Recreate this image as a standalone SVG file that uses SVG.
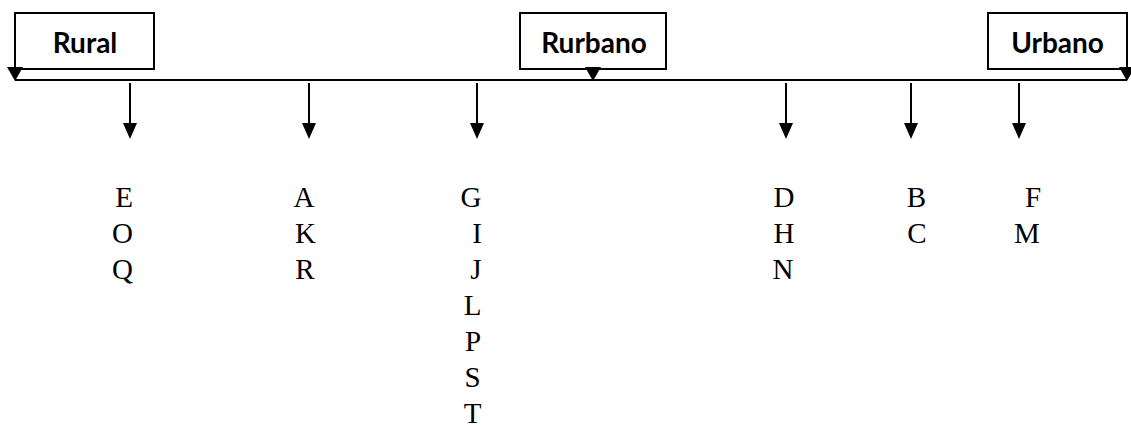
<svg xmlns="http://www.w3.org/2000/svg" width="1131" height="427" viewBox="0 0 1131 427">
<style>
.box{fill:#fff;stroke:#000;stroke-width:2}
.lbl{font-family:Lato,"Liberation Sans",sans-serif;font-weight:bold;font-size:28px;text-anchor:middle;fill:#000}
.ltr{font-family:"Liberation Serif",serif;font-size:29px;text-anchor:middle;fill:#000}
.ln{stroke:#000;stroke-width:2;fill:none}
.ah{fill:#000}
</style>
<rect width="1131" height="427" fill="#fff"/>
<g id="node-rural"><rect class="box" x="15" y="13" width="139" height="56"/><text class="lbl" x="85" y="53">Rural</text></g>
<g id="node-rurbano"><rect class="box" x="520" y="13" width="146" height="56"/><text class="lbl" x="594" y="53">Rurbano</text></g>
<g id="node-urbano"><rect class="box" x="988" y="13" width="139" height="56"/><text class="lbl" x="1057.5" y="53">Urbano</text></g>
<g id="connectors">
<line class="ln" x1="15" y1="80" x2="1127" y2="80" stroke-width="1.5"/>
<line class="ln" x1="15" y1="69" x2="15" y2="72"/>
<polygon class="ah" points="7,67 23,67 15,81"/>
<polygon class="ah" points="585,67 601,67 593,81"/>
<line class="ln" x1="1127" y1="69" x2="1127" y2="72"/>
<polygon class="ah" points="1119,67 1135,67 1127,81"/>
<g id="down-arrows">
<line class="ln" x1="130" y1="83" x2="130" y2="126"/><polygon class="ah" points="123,123 137,123 130,139"/>
<line class="ln" x1="309" y1="83" x2="309" y2="126"/><polygon class="ah" points="302,123 316,123 309,139"/>
<line class="ln" x1="477" y1="83" x2="477" y2="126"/><polygon class="ah" points="470,123 484,123 477,139"/>
<line class="ln" x1="786" y1="83" x2="786" y2="126"/><polygon class="ah" points="779,123 793,123 786,139"/>
<line class="ln" x1="911" y1="83" x2="911" y2="126"/><polygon class="ah" points="904,123 918,123 911,139"/>
<line class="ln" x1="1019" y1="83" x2="1019" y2="126"/><polygon class="ah" points="1012,123 1026,123 1019,139"/>
</g>
</g>
<g id="col1"><text class="ltr" x="124" y="207">E</text><text class="ltr" x="122.5" y="243">O</text><text class="ltr" x="122.5" y="279">Q</text></g>
<g id="col2"><text class="ltr" x="304" y="207">A</text><text class="ltr" x="305.5" y="243">K</text><text class="ltr" x="305" y="279">R</text></g>
<g id="col3"><text class="ltr" x="471" y="207">G</text><text class="ltr" x="477" y="243">I</text><text class="ltr" x="476" y="279">J</text><text class="ltr" x="472.5" y="315">L</text><text class="ltr" x="473" y="351">P</text><text class="ltr" x="472.5" y="387">S</text><text class="ltr" x="472.5" y="423">T</text></g>
<g id="col4"><text class="ltr" x="784" y="207">D</text><text class="ltr" x="784" y="243">H</text><text class="ltr" x="783" y="279">N</text></g>
<g id="col5"><text class="ltr" x="916.5" y="207">B</text><text class="ltr" x="917" y="243">C</text></g>
<g id="col6"><text class="ltr" x="1033" y="207">F</text><text class="ltr" x="1027" y="243">M</text></g>
</svg>
